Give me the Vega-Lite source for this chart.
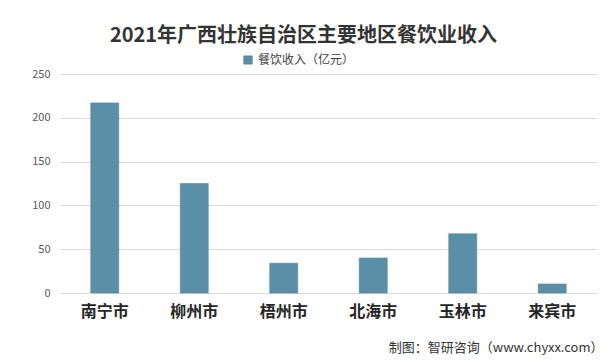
{
  "$schema": "https://vega.github.io/schema/vega-lite/v6.json",
  "autosize": {"type": "none"},
  "width": 537,
  "height": 219,
  "padding": {"left": 60, "top": 74, "right": 9, "bottom": 71},
  "background": "white",
  "config": {
    "font": "Noto Sans CJK SC",
    "view": {"stroke": null}
  },
  "title": {
    "text": "2021年广西壮族自治区主要地区餐饮业收入",
    "fontSize": 20,
    "fontWeight": "bold",
    "color": "#333333",
    "anchor": "middle",
    "frame": "group",
    "dx": -25,
    "offset": 8
  },
  "data": {
    "values": [
      {"city": "南宁市", "series": "餐饮收入（亿元）", "value": 217},
      {"city": "柳州市", "series": "餐饮收入（亿元）", "value": 125},
      {"city": "梧州市", "series": "餐饮收入（亿元）", "value": 34},
      {"city": "北海市", "series": "餐饮收入（亿元）", "value": 40},
      {"city": "玉林市", "series": "餐饮收入（亿元）", "value": 67.5},
      {"city": "来宾市", "series": "餐饮收入（亿元）", "value": 10.3}
    ]
  },
  "mark": {"type": "bar", "stroke": "#55879f", "strokeWidth": 0.6},
  "encoding": {
    "x": {
      "field": "city",
      "type": "nominal",
      "sort": null,
      "scale": {"paddingInner": 0.687, "paddingOuter": 0.3435},
      "axis": {
        "title": "制图：智研咨询（www.chyxx.com）",
        "titleAnchor": "end",
        "titleAlign": "right",
        "titleFontSize": 13,
        "titleFontWeight": "normal",
        "titleColor": "#333333",
        "titlePadding": 22,
        "titleX": 543,
        "labelAngle": 0,
        "labelFontSize": 16,
        "labelFontWeight": "bold",
        "labelColor": "#262626",
        "labelPadding": 10,
        "ticks": false,
        "domainColor": "#d9d9d9"
      }
    },
    "y": {
      "field": "value",
      "type": "quantitative",
      "scale": {"domain": [0, 250]},
      "axis": {
        "title": null,
        "values": [0, 50, 100, 150, 200, 250],
        "labelFontSize": 11,
        "labelColor": "#595959",
        "labelPadding": 10,
        "ticks": false,
        "domain": false,
        "gridColor": "#d9d9d9"
      }
    },
    "color": {
      "field": "series",
      "type": "nominal",
      "scale": {"range": ["#5b8fa8"]},
      "legend": {
        "title": null,
        "orient": "none",
        "legendX": 182,
        "legendY": -20,
        "symbolType": "square",
        "symbolSize": 60,
        "labelFontSize": 12,
        "labelColor": "#404040"
      }
    }
  }
}
